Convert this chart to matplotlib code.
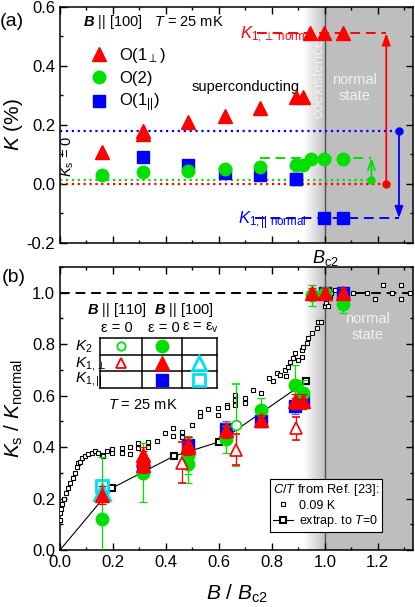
import numpy as np
import matplotlib.pyplot as plt
from matplotlib.colors import LinearSegmentedColormap
from matplotlib.ticker import MultipleLocator

plt.rcParams['font.family'] = ['Liberation Sans', 'DejaVu Sans']
plt.rcParams['mathtext.fontset'] = 'custom'
plt.rcParams['mathtext.rm'] = 'Liberation Sans'
plt.rcParams['mathtext.it'] = 'Liberation Sans:italic'
plt.rcParams['mathtext.bf'] = 'Liberation Sans:bold'
plt.rcParams['mathtext.bfit'] = 'Liberation Sans:bold:italic'

# ---------------- datos panel (a): K (%) vs B/Bc2 ----------------
B_perp = [0.157, 0.315, 0.315, 0.484, 0.623, 0.755, 0.89, 0.917, 0.945, 0.998, 1.067]
K_perp = [0.11, 0.18, 0.17, 0.21, 0.232, 0.257, 0.296, 0.296, 0.512, 0.512, 0.512]
B_o2 = [0.157, 0.315, 0.484, 0.623, 0.755, 0.89, 0.917, 0.948, 0.998, 1.067]
K_o2 = [0.03, 0.04, 0.044, 0.052, 0.059, 0.063, 0.064, 0.084, 0.085, 0.084]
B_par = [0.315, 0.484, 0.623, 0.755, 0.89, 0.998, 1.067]
K_par = [0.093, 0.064, 0.038, 0.031, 0.017, -0.116, -0.116]

# niveles de referencia (K_s = 0 y K normal)
K0_perp, Kn_perp, x_arrow_perp = 0.0, 0.511, 1.232
K0_par, Kn_par, x_arrow_par = 0.18, -0.116, 1.28
K0_o2, Kn_o2, x_arrow_o2 = 0.014, 0.089, 1.176

# ---------------- datos panel (b): Ks/Knormal vs B/Bc2 ----------------
B2_100 = [0.157, 0.315, 0.484, 0.484, 0.625, 0.758, 0.887, 0.918, 0.95, 1.0, 1.07]
K2_100 = [0.12, 0.30, 0.335, 0.37, 0.43, 0.545, 0.64, 0.61, 0.99, 1.0, 0.955]
K2_100_err = [0.24, 0.115, 0.075, 0.075, 0.052, 0.045, 0.08, 0.05, 0.04, 0.02, 0.035]

B1perp_100 = [0.157, 0.315, 0.315, 0.315, 0.484, 0.484, 0.625, 0.758, 0.887, 0.918, 0.95, 1.0, 1.07]
K1perp_100 = [0.215, 0.33, 0.355, 0.37, 0.40, 0.41, 0.465, 0.505, 0.578, 0.578, 1.0, 1.0, 1.0]
K1perp_100_err = [0.035, 0.03, 0.03, 0.03, 0.03, 0.03, 0.03, 0.02, 0.03, 0.03, 0.02, 0.02, 0.02]

B1par_100 = [0.315, 0.484, 0.625, 0.758, 0.887, 0.918, 1.0, 1.07]
K1par_100 = [0.33, 0.41, 0.47, 0.50, 0.56, 0.585, 1.0, 1.0]
K1par_100_err = [0.04, 0.03, 0.03, 0.02, 0.03, 0.03, 0.02, 0.02]

B2_110 = [0.664]
K2_110 = [0.486]
K2_110_err = [0.16]

B1perp_110 = [0.46, 0.664, 0.89]
K1perp_110 = [0.34, 0.39, 0.473]
K1perp_110_err = [0.08, 0.06, 0.045]

B_eps = [0.16]
K1perp_eps = [0.225]
K1par_eps = [0.248]

# C/T de Ref. [23] a 0.09 K
CT_B = [0.0, 0.0, 0.004, 0.008, 0.015, 0.023, 0.03, 0.038, 0.048, 0.057,
        0.063, 0.069, 0.075, 0.082, 0.094, 0.107, 0.12, 0.132, 0.145, 0.157,
        0.163, 0.176, 0.195, 0.195, 0.233, 0.233, 0.264, 0.264, 0.296, 0.296,
        0.333, 0.333, 0.365, 0.396, 0.428, 0.428, 0.459, 0.459, 0.497, 0.528,
        0.528, 0.56, 0.597, 0.597, 0.629, 0.629, 0.66, 0.66, 0.66, 0.698,
        0.698, 0.73, 0.76, 0.79, 0.805, 0.818, 0.83, 0.849, 0.855, 0.862,
        0.868, 0.88, 0.887, 0.9, 0.912, 0.912, 0.918, 0.931, 0.937, 0.95,
        0.969, 0.975, 0.987, 1.0, 1.006, 1.012, 1.02, 1.025, 1.04, 1.107,
        1.16, 1.19, 1.22, 1.252, 1.287, 1.287, 1.32]
CT_K = [0.117, 0.143, 0.16, 0.18, 0.20, 0.22, 0.24, 0.26, 0.28, 0.30,
        0.324, 0.337, 0.344, 0.357, 0.366, 0.372, 0.379, 0.383, 0.378, 0.37,
        0.364, 0.383, 0.393, 0.376, 0.396, 0.376, 0.402, 0.374, 0.415, 0.396,
        0.42, 0.40, 0.424, 0.454, 0.473, 0.445, 0.46, 0.44, 0.486, 0.519,
        0.535, 0.549, 0.551, 0.525, 0.564, 0.555, 0.603, 0.584, 0.565, 0.59,
        0.57, 0.623, 0.61, 0.668, 0.655, 0.687, 0.68, 0.70, 0.675, 0.713,
        0.73, 0.746, 0.765, 0.74, 0.778, 0.752, 0.791, 0.804, 0.824, 0.843,
        0.862, 0.888, 0.888, 0.947, 0.96, 0.95, 0.986, 1.0, 1.01, 0.999,
        1.0, 0.976, 1.03, 1.0, 1.03, 0.975, 1.0]

# extrapolacion a T = 0
ext_B = [0.0, 0.195, 0.43, 0.6, 0.93]
ext_K = [0.0, 0.24, 0.365, 0.42, 0.655]

gray = '#bebebe'
red, green, blue, cyan = '#ff0000', '#00e000', '#0000ff', '#00e0f0'
xmax = 1.333

fig = plt.figure(figsize=(4.15, 6.07), dpi=100)
ax1 = fig.add_axes([0.1446, 0.5997, 0.8506, 0.3888])
ax2 = fig.add_axes([0.1446, 0.0939, 0.8506, 0.4662])

cmap_grad = LinearSegmentedColormap.from_list('grad', ['white', gray])
grad = np.linspace(0, 1, 256).reshape(1, -1)


def fondo(ax, ylo, yhi):
    ax.imshow(grad, extent=[0.92, 1.0, ylo, yhi], aspect='auto', cmap=cmap_grad, zorder=0)
    ax.axvspan(1.0, xmax + 0.01, color=gray, lw=0, zorder=0)
    ax.axvline(1.0, color='#505050', lw=1.0, zorder=1)
    ax.set_xlim(0, xmax)
    ax.set_ylim(ylo, yhi)
    ax.xaxis.set_major_locator(MultipleLocator(0.2))
    ax.xaxis.set_minor_locator(MultipleLocator(0.1))
    ax.yaxis.set_major_locator(MultipleLocator(0.2))
    ax.yaxis.set_minor_locator(MultipleLocator(0.1))
    ax.tick_params(which='both', direction='in', top=True, right=True, width=1.0, labelsize=12)
    ax.tick_params(which='major', length=5)
    ax.tick_params(which='minor', length=2.5)
    for s in ax.spines.values():
        s.set_linewidth(1.1)


# ======================== panel (a) ========================
fondo(ax1, -0.2, 0.6)
ax1.tick_params(labelbottom=False)
ax1.set_yticks([-0.2, 0.0, 0.2, 0.4, 0.6])
ax1.set_yticklabels(['-0.2', '0.0', '0.2', '0.4', '0.6'])

# lineas de referencia
ax1.plot([0, x_arrow_perp], [K0_perp, K0_perp], ':', color=red, lw=1.6, zorder=2)
ax1.plot([0, x_arrow_par], [K0_par, K0_par], ':', color=blue, lw=1.6, zorder=2)
ax1.plot([0, x_arrow_o2], [K0_o2, K0_o2], ':', color=green, lw=1.6, zorder=2)
ax1.plot([0.745, x_arrow_perp], [Kn_perp, Kn_perp], '--', color=red, lw=1.4, dashes=(5, 3), zorder=2)
ax1.plot([0.735, x_arrow_par], [Kn_par, Kn_par], '--', color=blue, lw=1.4, dashes=(5, 3), zorder=2)
ax1.plot([0.755, x_arrow_o2], [Kn_o2, Kn_o2], '--', color=green, lw=1.4, dashes=(5, 3), zorder=2)

# flechas K_s = 0 -> K normal
for xa, y0, y1, c, st in [(x_arrow_perp, K0_perp, Kn_perp, red, '-|>'),
                          (x_arrow_par, K0_par, Kn_par, blue, '-|>'),
                          (x_arrow_o2, K0_o2, Kn_o2, green, '->')]:
    ax1.annotate('', xy=(xa, y1), xytext=(xa, y0),
                 arrowprops=dict(arrowstyle=st + ',head_width=0.25,head_length=0.7',
                                 color=c, lw=1.3, shrinkA=0, shrinkB=0), zorder=3)
    ax1.plot(xa, y0, 'o', color=c, ms=5, zorder=4)

h_perp, = ax1.plot(B_perp, K_perp, '^', color=red, ms=10, mec=red, zorder=5, label=r'O(1$_\perp$)')
h_o2, = ax1.plot(B_o2, K_o2, 'o', color=green, ms=9, zorder=6, label='O(2)')
h_par, = ax1.plot(B_par, K_par, 's', color=blue, ms=8, zorder=5, label=r'O(1$_{||}$)')
ax1.plot(B_par[4], K_par[4], 's', color=blue, ms=8, zorder=7)

leg = ax1.legend(handles=[h_perp, h_o2, h_par], loc='upper left', bbox_to_anchor=(0.05, 0.885),
                 frameon=False, fontsize=12, handletextpad=0.6, labelspacing=0.35,
                 handlelength=1.2, borderpad=0.2)

ax1.text(0.085, 0.548, r'$\mathbfit{B}$ || [100]   $T$ = 25 mK', fontsize=10.5, va='center')
ax1.text(0.498, 0.33, 'superconducting', fontsize=10.5, va='center')
ax1.text(0.03, 0.095, r'$K_\mathrm{s}$ = 0', rotation=90, fontsize=10.5, ha='center', va='center')
ax1.text(0.975, 0.36, 'coexistence', rotation=90, fontsize=11, color='#f2f2f2', ha='center', va='center')
ax1.text(1.113, 0.325, 'normal\nstate', fontsize=10.5, color='#f2f2f2', ha='center', va='center',
         linespacing=1.2)
ax1.text(0.68, Kn_perp - 0.019, r'$K_{1,\perp\ \mathrm{normal}}$', fontsize=12, color=red, va='baseline')
ax1.text(0.672, Kn_par - 0.019, r'$K_{1,||\ \mathrm{normal}}$', fontsize=12, color=blue, va='baseline')

ax1.set_ylabel(r'$K$ (%)', fontsize=15)
ax1.yaxis.set_label_coords(-0.10, 0.5)
fig.text(0.783, 1 - 258 / 607, r'$B_\mathrm{c2}$', fontsize=13, ha='center', va='center')
fig.text(0.0, 1 - 21 / 607, '(a)', fontsize=14, va='center')

# ======================== panel (b) ========================
fondo(ax2, 0.0, 1.1)
ax2.set_yticks([0.0, 0.2, 0.4, 0.6, 0.8, 1.0])
ax2.set_yticklabels(['0.0', '0.2', '0.4', '0.6', '0.8', '1.0'])
ax2.set_xticks([0.0, 0.2, 0.4, 0.6, 0.8, 1.0, 1.2])
ax2.set_xticklabels(['0.0', '0.2', '0.4', '0.6', '0.8', '1.0', '1.2'])

ax2.axhline(1.0, color='black', lw=1.4, ls='--', dashes=(5, 3), zorder=2)

h_ct, = ax2.plot(CT_B, CT_K, 's', ms=3.2, mfc='white', mec='black', mew=0.8, ls='none',
                 zorder=3, label='0.09 K')
h_ext, = ax2.plot(ext_B, ext_K, '-', color='black', lw=0.8, marker='s', ms=5, mfc='white',
                  mec='black', mew=1.5, markevery=[1, 2, 3, 4], zorder=4, label=r'extrap. to $T$=0')

eb = dict(ls='none', capsize=3, elinewidth=0.9, capthick=0.9)
ax2.errorbar(B2_100, K2_100, yerr=K2_100_err, fmt='o', color=green, ms=9, zorder=6, **eb)
ax2.errorbar(B1par_100, K1par_100, yerr=K1par_100_err, fmt='s', color=blue, ecolor='#6060ff',
             ms=8, zorder=5, **eb)
ax2.errorbar(B1perp_100, K1perp_100, yerr=K1perp_100_err, fmt='^', color=red, ms=10, zorder=7, **eb)
ax2.errorbar(B2_110, K2_110, yerr=K2_110_err, fmt='o', mfc='white', mec=green, ecolor=green,
             ms=7, mew=1.2, zorder=6, **eb)
ax2.errorbar(B1perp_110, K1perp_110, yerr=K1perp_110_err, fmt='^', mfc='white', mec=red,
             ecolor=red, ms=8, mew=1.2, zorder=6, **eb)
ax2.plot(B_eps, K1par_eps, 's', mfc='white', mec=cyan, ms=8, mew=2, zorder=5)
ax2.plot(B_eps, K1perp_eps, '^', mfc='white', mec=cyan, ms=11, mew=2, zorder=5)

# textos de la tabla (coordenadas de ejes)
tx = ax2.transAxes
for yy, lab in zip([0.718, 0.659, 0.600], [r'$K_2$', r'$K_{1,\perp}$', r'$K_{1,||}$']):
    ax2.text(0.042, yy, lab, fontsize=11, ha='left', va='center', transform=tx)
ax2.text(0.16, 0.848, r'$\mathbfit{B}$ || [110]', fontsize=10.5, ha='center', va='center', transform=tx)
ax2.text(0.35, 0.848, r'$\mathbfit{B}$ || [100]', fontsize=10.5, ha='center', va='center', transform=tx)
ax2.text(0.16, 0.784, 'ε = 0', fontsize=10.5, ha='center', va='center', transform=tx)
ax2.text(0.293, 0.784, 'ε = 0', fontsize=10.5, ha='center', va='center', transform=tx)
ax2.text(0.397, 0.784, r'ε = ε$_\mathrm{v}$', fontsize=10.5, ha='center', va='center', transform=tx)
ax2.text(0.236, 0.512, r'$T$ = 25 mK', fontsize=10.5, ha='center', va='center', transform=tx)

# tabla de simbolos como eje insertado
axt = fig.add_axes([100 / 415, 1 - 388 / 607, 117 / 415, 50 / 607])
col_edges = [0, 1.07, 2.1, 3.0]
col_mid = [(col_edges[i] + col_edges[i + 1]) / 2 for i in range(3)]
axt.set_xlim(0, 3)
axt.set_ylim(0, 3)
axt.axis('off')
for xe in col_edges:
    axt.plot([xe, xe], [0, 3], color='black', lw=1.1, clip_on=False)
for k in range(4):
    axt.plot([0, 3], [k, k], color='black', lw=1.1, clip_on=False)
axt.plot(col_mid[0], 2.5, 'o', mfc='white', mec=green, ms=6, mew=1.3)
axt.plot(col_mid[1], 2.5, 'o', color=green, ms=9)
axt.plot(col_mid[0], 1.5, '^', mfc='white', mec=red, ms=7, mew=1.3)
axt.plot(col_mid[1], 1.5, '^', color=red, ms=10)
axt.plot(col_mid[2], 1.5, '^', mfc='white', mec=cyan, ms=10, mew=2)
axt.plot(col_mid[1], 0.5, 's', color=blue, ms=8)
axt.plot(col_mid[2], 0.5, 's', mfc='white', mec=cyan, ms=8, mew=2)

ax2.text(1.162, 0.868, 'normal\nstate', fontsize=10.5, color='#f2f2f2', ha='center', va='center',
         linespacing=1.2)

leg2 = ax2.legend(handles=[h_ct, h_ext], title=r'$C/T$ from Ref. [23]:', loc='lower left',
                  bbox_to_anchor=(0.595, 0.064), fontsize=9, title_fontsize=9.3,
                  frameon=True, fancybox=False, edgecolor='black', framealpha=1,
                  handlelength=1.6, handletextpad=0.5, borderpad=0.2, labelspacing=0.15,
                  borderaxespad=0)
leg2.get_frame().set_linewidth(0.8)
leg2.set_zorder(10)

ax2.set_ylabel(r'$K_\mathrm{s}$ / $K_\mathrm{normal}$', fontsize=15)
ax2.yaxis.set_label_coords(-0.10, 0.5)
ax2.set_xlabel(r'$B$ / $B_\mathrm{c2}$', fontsize=15)
ax2.xaxis.set_label_coords(0.5, -0.117)
fig.text(0.005, 1 - 278 / 607, '(b)', fontsize=14, va='center')

fig.savefig('out.png', dpi=100)
